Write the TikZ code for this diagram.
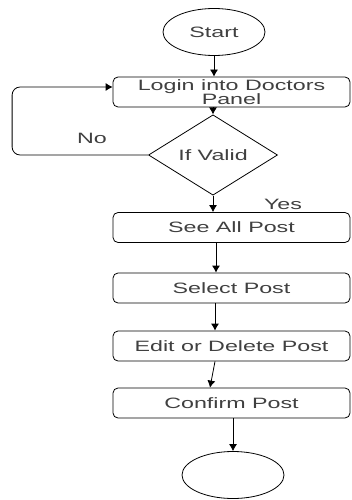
\documentclass[tikz,border=0pt]{standalone}
\usepackage{fontspec}
\setmainfont{Liberation Sans}[FakeStretch=1.55]
\usepackage{tikz}
\usetikzlibrary{shapes, arrows.meta, positioning}
\tikzstyle{block} = [draw, fill=white, rectangle, rounded corners=5pt, minimum width=237pt, minimum height=30pt, inner sep=1pt, align=center]
\tikzstyle{decision} = [draw, fill=white, diamond, minimum width=129pt, minimum height=70pt, inner sep=0pt]
\tikzstyle{terminal} = [draw, fill=white, ellipse, minimum width=102pt, minimum height=47pt, inner sep=0pt]
\tikzstyle{lbl} = [inner sep=0pt]

\begin{document}
\begin{tikzpicture}[auto, >={Latex[length=7pt,width=8pt]}, line width=0.8pt,
    every node/.style={text=black!75, font=\fontsize{15}{14}\selectfont}]
  \useasboundingbox (0,0) rectangle (351pt,-500pt);
  \node[terminal] (start) at (214pt,-32pt) {Start};
  \node[block, below of=start, node distance=60pt, xshift=17.5pt] (login) {Login into Doctors\\Panel};
  \node[decision, below of=login, node distance=63pt, xshift=-18.5pt] (valid) {If Valid};
  \node[block, below of=valid, node distance=72.5pt, xshift=18.5pt] (seeall) {See All Post};
  \node[block, below of=seeall, node distance=60.5pt] (select) {Select Post};
  \node[block, below of=select, node distance=58pt] (edit) {Edit or Delete Post};
  \node[block, below of=edit, node distance=57pt] (confirm) {Confirm Post};
  \node[terminal, below of=confirm, node distance=72pt, xshift=1.5pt] (end) {};
  \node[lbl] (no) at ([xshift=-121pt, yshift=17pt]valid.center) {No};
  \node[lbl] (yes) at ([xshift=70pt, yshift=-9pt]valid.south) {Yes};
  \draw[->] (start.south) -- (start.south |- login.north);
  \draw[->] (login.south -| valid.north) -- (valid.north);
  \draw[->] (valid.south) -- (valid.south |- seeall.north);
  \draw[->] ([xshift=3pt]seeall.south -| valid.south) -- ([xshift=3pt]select.north -| valid.south);
  \draw[->] ([xshift=2pt]select.south -| valid.south) -- ([xshift=2pt]edit.north -| valid.south);
  \draw[->] ([xshift=2pt]edit.south -| valid.south) -- ([xshift=-3pt]confirm.north -| valid.south);
  \draw[->] (confirm.south -| end.north) -- (end.north);
  \draw[->, rounded corners=8pt] (valid.west) -- ++(-136pt,0) |- ([yshift=5pt]login.west);
\end{tikzpicture}
\end{document}
